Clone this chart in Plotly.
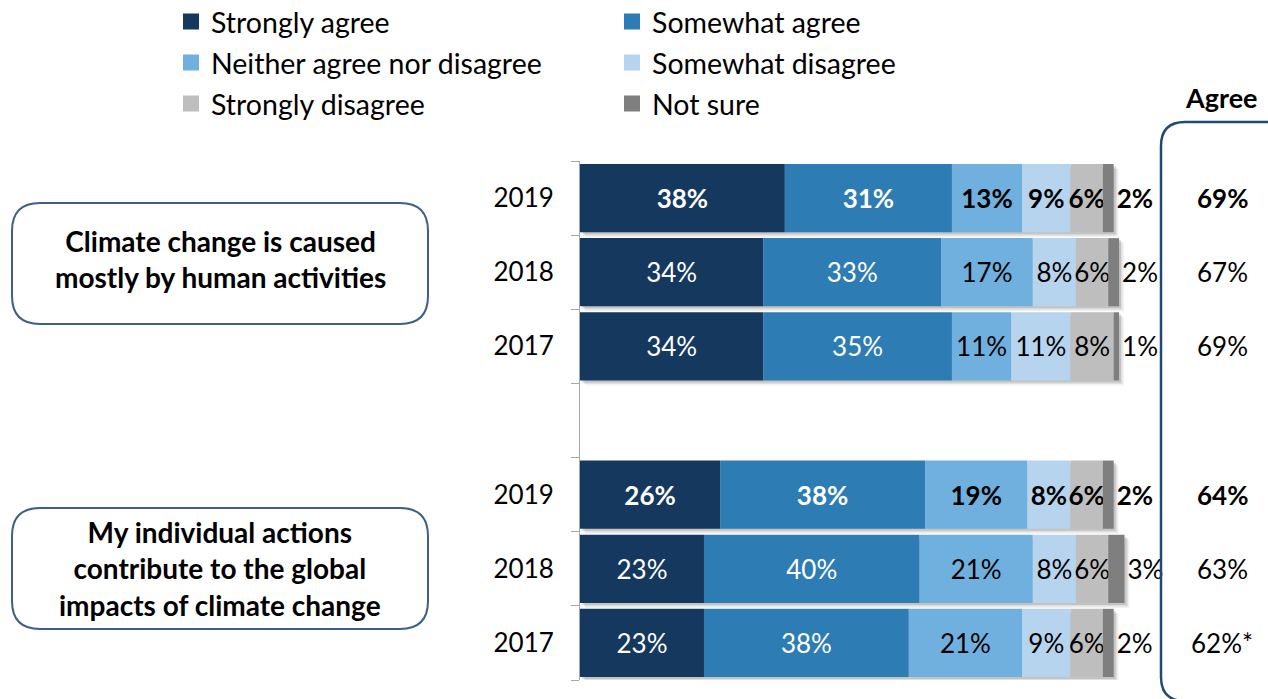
import plotly.graph_objects as go

# Survey responses, one row per statement/year (top to bottom)
rows = ["2019", "2018", "2017", " ", "2019 ", "2018 ", "2017 "]
year_labels = ["2019", "2018", "2017", "", "2019", "2018", "2017"]

responses = ["Strongly agree", "Somewhat agree", "Neither agree nor disagree",
             "Somewhat disagree", "Strongly disagree", "Not sure"]
colors = ["#15385F", "#2D7CB4", "#70B0DE", "#B6D4ED", "#BEBEBE", "#7F7F7F"]
label_colors = ["#FFFFFF", "#FFFFFF", "#000000", "#000000", "#000000", "#000000"]

strongly_agree = [38, 34, 34, None, 26, 23, 23]
somewhat_agree = [31, 33, 35, None, 38, 40, 38]
neither = [13, 17, 11, None, 19, 21, 21]
somewhat_disagree = [9, 8, 11, None, 8, 8, 9]
strongly_disagree = [6, 6, 8, None, 6, 6, 6]
not_sure = [2, 2, 1, None, 2, 3, 2]
series = [strongly_agree, somewhat_agree, neither, somewhat_disagree,
          strongly_disagree, not_sure]

agree_totals = ["69%", "67%", "69%", "", "64%", "63%", "62%*"]
bold_rows = [True, False, False, False, True, False, False]

statements = ["Climate change is caused<br>mostly by human activities",
              "My individual actions<br>contribute to the global<br>impacts of climate change"]

FONT = "Lato"
LABEL_SIZE = 26

# plot-area geometry (pixels); x axis runs a little past 100% so end labels fit
W, H = 1268, 699
XMAX = 105
PX_PER_PCT = 5.39
L, T, B = 580, 161, 19
PW = round(XMAX * PX_PER_PCT)
R = W - L - PW
PH = H - T - B
ROW_PX = PH / len(rows)
BAR_W = 0.92


def px(x):
    return (x - L) / PW


def py(y):
    return (H - B - y) / PH


def rounded_path(x0, y0, x1, y1, r):
    pts = [
        ("M", (x0 + r, y0)), ("L", (x1 - r, y0)), ("Q", (x1, y0), (x1, y0 + r)),
        ("L", (x1, y1 - r)), ("Q", (x1, y1), (x1 - r, y1)), ("L", (x0 + r, y1)),
        ("Q", (x0, y1), (x0, y1 - r)), ("L", (x0, y0 + r)), ("Q", (x0, y0), (x0 + r, y0)),
    ]
    out = []
    for p in pts:
        coords = " ".join(f"{px(a):.5f},{py(b):.5f}" for a, b in p[1:])
        out.append(f"{p[0]} {coords}")
    return " ".join(out) + " Z"


def fmt(v, bold):
    if v is None:
        return ""
    s = f"{v}%"
    return f"<b>{s}</b>" if bold else s


# running left edge of each segment, and the full length of each bar
bases = []
running = [0 if v is not None else None for v in series[0]]
for vals in series:
    bases.append(list(running))
    running = [None if r is None else r + v for r, v in zip(running, vals)]
totals = running

fig = go.Figure()

# soft drop shadow behind each bar (offset right and down)
for shift_px, alpha in [(5, 0.05), (3.5, 0.08), (2, 0.12)]:
    fig.add_trace(go.Bar(
        y=rows, x=totals, base=shift_px / PX_PER_PCT, orientation="h",
        width=BAR_W, offset=-BAR_W / 2 + shift_px / ROW_PX,
        marker=dict(color=f"rgba(0,0,0,{alpha})", line=dict(width=0)),
        showlegend=False, hoverinfo="skip",
    ))

for i, (name, vals, col, tcol) in enumerate(zip(responses, series, colors, label_colors)):
    last = i == len(responses) - 1
    fig.add_trace(go.Bar(
        name=name, y=rows, x=vals, base=bases[i], orientation="h",
        width=BAR_W, offset=-BAR_W / 2,
        marker=dict(color=col, line=dict(width=0)),
        text=[fmt(v, b) for v, b in zip(vals, bold_rows)],
        textposition="outside" if last else "inside",
        insidetextanchor="middle", textangle=0, cliponaxis=False,
        textfont=dict(family=FONT, size=LABEL_SIZE, color=tcol),
        showlegend=False, hoverinfo="skip",
    ))

# legend entries: two per row, three rows
for i, (name, col) in enumerate(zip(responses, colors)):
    fig.add_trace(go.Scatter(
        x=[None], y=[None], mode="markers", name=name,
        marker=dict(symbol="square", size=16, color=col),
        legend=["legend", "legend2", "legend3"][i // 2],
    ))

legend_common = dict(
    orientation="h", xanchor="left", yanchor="middle", x=px(171),
    traceorder="normal",
    font=dict(family=FONT, size=28.5, color="#000000"),
    entrywidth=396, entrywidthmode="pixels", bgcolor="rgba(0,0,0,0)",
    itemclick=False, itemdoubleclick=False,
)

annotations = []
# Agree column
annotations.append(dict(xref="paper", yref="paper", x=px(1221), y=py(97),
                        xanchor="center", yanchor="middle",
                        text="<b>Agree</b>", showarrow=False,
                        font=dict(family=FONT, size=27, color="#000000")))
for idx, (v, b) in enumerate(zip(agree_totals, bold_rows)):
    if not v:
        continue
    annotations.append(dict(xref="paper", yref="y", x=px(1222), y=idx,
                            xanchor="center", yanchor="middle",
                            text=f"<b>{v}</b>" if b else v, showarrow=False,
                            font=dict(family=FONT, size=LABEL_SIZE, color="#000000")))

# statement boxes on the left
box_y = [(203, 324), (508, 629)]
text_y = [259, 568]
shapes = []
for (y0, y1), ty, txt in zip(box_y, text_y, statements):
    shapes.append(dict(type="path", xref="paper", yref="paper",
                       path=rounded_path(12, y0, 428, y1, 28),
                       line=dict(color="#3E5F86", width=2)))
    annotations.append(dict(xref="paper", yref="paper", x=px(220), y=py(ty),
                            xanchor="center", yanchor="middle",
                            text=f"<b>{txt}</b>", showarrow=False, align="center",
                            font=dict(family=FONT, size=28, color="#000000")))

# frame around the Agree column
shapes.append(dict(type="path", xref="paper", yref="paper",
                   path=rounded_path(1161, 122, 1300, 701, 24),
                   line=dict(color="#1F4A75", width=2.5)))

fig.update_layout(
    width=W, height=H, autosize=False,
    margin=dict(l=L, r=R, t=T, b=B, autoexpand=False),
    barmode="overlay",
    plot_bgcolor="white", paper_bgcolor="white",
    uniformtext=dict(minsize=LABEL_SIZE, mode="show"),
    legend=legend_common | dict(y=py(22)),
    legend2=legend_common | dict(y=py(63)),
    legend3=legend_common | dict(y=py(104)),
    xaxis=dict(range=[0, XMAX], visible=False, fixedrange=True),
    yaxis=dict(
        type="category", categoryorder="array", categoryarray=rows,
        range=[6.5, -0.5], tickmode="array", tickvals=rows, ticktext=year_labels,
        tickson="boundaries", ticks="outside", ticklen=8, tickcolor="#A6A6A6",
        showline=True, linecolor="#A6A6A6", linewidth=1, showgrid=False,
        ticklabelstandoff=20, fixedrange=True,
        tickfont=dict(family=FONT, size=26, color="#000000"),
    ),
    shapes=shapes, annotations=annotations,
)

fig.write_html("out.html")
